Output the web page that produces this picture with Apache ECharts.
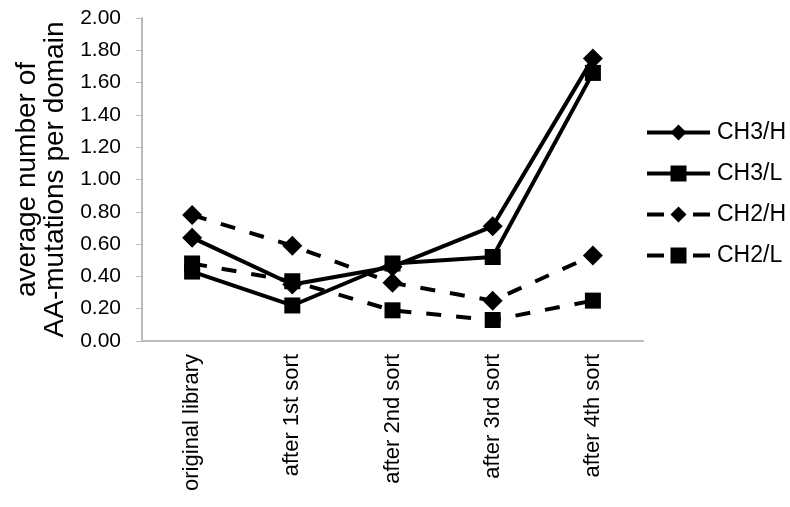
<!DOCTYPE html>
<html>
<head>
<meta charset="utf-8">
<script src="https://cdn.jsdelivr.net/npm/echarts@6/dist/echarts.min.js"></script>
<style>
  html, body { margin: 0; padding: 0; background: #fff; }
  #chart { width: 790px; height: 507px; }
</style>
</head>
<body>
<div id="chart"></div>
<script>
// 数据
var categories = ['original library', 'after 1st sort', 'after 2nd sort', 'after 3rd sort', 'after 4th sort'];
var ch3H = [0.64, 0.35, 0.46, 0.71, 1.75];
var ch3L = [0.43, 0.22, 0.48, 0.52, 1.66];
var ch2H = [0.78, 0.59, 0.36, 0.25, 0.53];
var ch2L = [0.48, 0.37, 0.19, 0.13, 0.25];

var font = 'Liberation Sans, Arial, Helvetica, sans-serif';

function mkSeries(name, data, symbol, size, dashed) {
  return {
    name: name,
    type: 'line',
    data: data,
    symbol: symbol,
    symbolSize: size,
    showAllSymbol: true,
    itemStyle: { color: '#000' },
    lineStyle: { color: '#000', width: 4, type: dashed ? [15, 15] : 'solid' },
    emphasis: { disabled: true },
    animation: false
  };
}

var chart = echarts.init(document.getElementById('chart'));
chart.setOption({
  animation: false,
  grid: { left: 142, right: 147, top: 18, bottom: 166 },
  legend: {
    orient: 'vertical',
    left: 640,
    top: 116,
    itemWidth: 63,
    itemHeight: 20,
    itemGap: 18,
    lineStyle: { width: 4 },
    textStyle: { fontFamily: font, fontSize: 23, color: '#000', padding: [0, 0, 0, 2] },
    data: [
      { name: 'CH3/H' },
      { name: 'CH3/L' },
      { name: 'CH2/H', lineStyle: { width: 4, type: [17, 29] } },
      { name: 'CH2/L', lineStyle: { width: 4, type: [17, 29] } }
    ]
  },
  xAxis: {
    type: 'category',
    data: categories,
    boundaryGap: true,
    axisLine: { lineStyle: { color: '#bbb', width: 2 } },
    axisTick: { show: false },
    axisLabel: { rotate: 90, fontFamily: font, fontSize: 22, color: '#000', margin: 13 }
  },
  yAxis: {
    type: 'value',
    min: 0,
    max: 2,
    interval: 0.2,
    name: 'average number of\nAA-mutations per domain',
    nameLocation: 'middle',
    nameGap: 58,
    nameTextStyle: { fontFamily: font, fontSize: 28, color: '#000', lineHeight: 28 },
    axisLine: { show: true, lineStyle: { color: '#bbb', width: 2 } },
    axisTick: { show: true, length: 6, lineStyle: { color: '#bbb' } },
    splitLine: { show: false },
    axisLabel: {
      fontFamily: font, fontSize: 21, color: '#000', margin: 21,
      formatter: function (v) { return v.toFixed(2); }
    }
  },
  series: [
    mkSeries('CH3/H', ch3H, 'diamond', 20, false),
    mkSeries('CH3/L', ch3L, 'rect', 16, false),
    mkSeries('CH2/H', ch2H, 'diamond', 20, true),
    mkSeries('CH2/L', ch2L, 'rect', 16, true)
  ]
});
</script>
</body>
</html>
